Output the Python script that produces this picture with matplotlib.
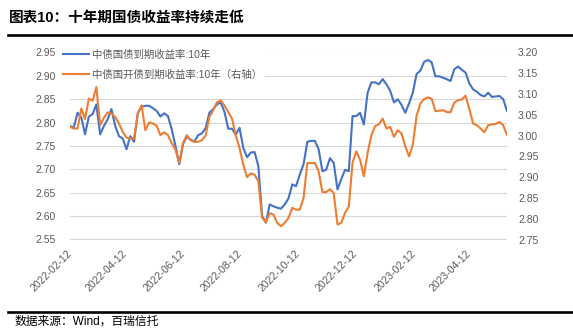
import matplotlib
matplotlib.use("Agg")
import matplotlib.pyplot as plt
from matplotlib.lines import Line2D
from matplotlib.ticker import MultipleLocator, FormatStrFormatter
import pandas as pd

plt.rcParams["font.family"] = ["Liberation Sans", "Noto Sans CJK SC", "DejaVu Sans"]

# 10Y yields, sampled every 4 days from 2022-02-12
dates = pd.date_range("2022-02-12", periods=117, freq="4D")
gov_10y = [
    2.793, 2.789, 2.821, 2.811, 2.775, 2.813, 2.818, 2.839, 2.775, 2.793, 2.807, 2.829,
    2.793, 2.771, 2.766, 2.743, 2.771, 2.759, 2.821, 2.834, 2.836, 2.836, 2.831, 2.825,
    2.813, 2.820, 2.814, 2.786, 2.750, 2.711, 2.754, 2.770, 2.764, 2.759, 2.773, 2.777,
    2.788, 2.821, 2.829, 2.839, 2.843, 2.823, 2.787, 2.787, 2.774, 2.789, 2.746, 2.726,
    2.736, 2.737, 2.707, 2.600, 2.586, 2.625, 2.621, 2.618, 2.616, 2.625, 2.638, 2.668,
    2.664, 2.689, 2.711, 2.759, 2.761, 2.761, 2.743, 2.696, 2.699, 2.724, 2.714, 2.657,
    2.679, 2.699, 2.696, 2.814, 2.814, 2.821, 2.796, 2.864, 2.886, 2.886, 2.882, 2.893,
    2.882, 2.868, 2.843, 2.850, 2.838, 2.821, 2.841, 2.864, 2.904, 2.911, 2.930, 2.934,
    2.929, 2.899, 2.899, 2.896, 2.893, 2.889, 2.914, 2.920, 2.913, 2.907, 2.884, 2.871,
    2.866, 2.859, 2.856, 2.864, 2.855, 2.856, 2.857, 2.850, 2.825,
]
cdb_10y = [
    3.021, 3.017, 3.017, 3.065, 3.040, 3.089, 3.084, 3.117, 3.025, 3.043, 3.056, 3.053,
    3.045, 3.029, 3.009, 2.995, 2.993, 2.993, 3.053, 3.073, 3.013, 3.032, 3.029, 3.024,
    3.001, 3.008, 3.001, 2.982, 2.966, 2.934, 2.982, 3.001, 2.989, 2.985, 2.985, 2.989,
    3.000, 3.045, 3.061, 3.080, 3.085, 3.072, 3.057, 3.041, 3.001, 2.970, 2.930, 2.900,
    2.909, 2.906, 2.890, 2.802, 2.792, 2.813, 2.810, 2.790, 2.782, 2.790, 2.802, 2.826,
    2.822, 2.822, 2.850, 2.934, 2.934, 2.934, 2.914, 2.864, 2.864, 2.871, 2.862, 2.786,
    2.790, 2.814, 2.829, 2.935, 2.962, 2.942, 2.902, 2.958, 3.001, 3.023, 3.027, 3.041,
    3.017, 3.021, 2.997, 3.013, 3.005, 2.974, 2.950, 2.978, 3.048, 3.077, 3.088, 3.092,
    3.089, 3.059, 3.060, 3.061, 3.057, 3.056, 3.079, 3.085, 3.087, 3.096, 3.064, 3.029,
    3.025, 3.017, 3.008, 3.025, 3.027, 3.028, 3.033, 3.025, 3.001,
]
tick_dates = pd.to_datetime([
    "2022-02-12", "2022-04-12", "2022-06-12", "2022-08-12",
    "2022-10-12", "2022-12-12", "2023-02-12", "2023-04-12",
])

BLUE = "#4472C4"
ORANGE = "#ED7D31"
GRAY = "#595959"
W, H = 573, 336

fig = plt.figure(figsize=(W / 100, H / 100), dpi=100)
ax = fig.add_axes([70 / W, 1 - 239.5 / H, 437 / W, 187 / H])
ax2 = ax.twinx()

l1, = ax.plot(dates, gov_10y, color=BLUE, lw=1.5, label="中债国债到期收益率:10年")
l2, = ax2.plot(dates, cdb_10y, color=ORANGE, lw=1.5, label="中债国开债到期收益率:10年（右轴）")

ax.set_xlim(dates[0], dates[-1])
ax.set_ylim(2.55, 2.95)
ax2.set_ylim(2.75, 3.20)
for a in (ax, ax2):
    a.yaxis.set_major_locator(MultipleLocator(0.05))
    a.yaxis.set_major_formatter(FormatStrFormatter("%.2f"))
    a.tick_params(length=0, labelsize=7.5, labelcolor=GRAY)
    for s in a.spines.values():
        s.set_visible(False)
ax.tick_params(axis="y", pad=10)
ax2.tick_params(axis="y", pad=8)
ax.yaxis.grid(True, color="#D9D9D9", lw=0.8)
ax.set_axisbelow(True)

ax.set_xticks(tick_dates)
ax.set_xticklabels([d.strftime("%Y-%m-%d") for d in tick_dates],
                   rotation=45, ha="right", va="center", rotation_mode="anchor")
ax.tick_params(axis="x", pad=9)

fig.legend(handles=[l1, l2], loc="upper left", bbox_to_anchor=(56 / W, 1 - 42 / H),
           fontsize=7.5, frameon=True, facecolor="white", edgecolor="none",
           framealpha=1, borderpad=0.2, handlelength=2.5, handletextpad=0.3,
           labelspacing=0.95, labelcolor=GRAY, fancybox=False)

fig.text(9 / W, 1 - 18 / H, "图表10：十年期国债收益率持续走低", fontsize=10.5,
         fontweight="bold", va="center", ha="left")
fig.add_artist(Line2D([8 / W, 1], [1 - 34.5 / H] * 2, color="black", lw=1.9))
fig.add_artist(Line2D([8 / W, 1], [1 - 311.7 / H] * 2, color="black", lw=1.9))
fig.text(15 / W, 1 - 322 / H, "数据来源：Wind，百瑞信托", fontsize=8.5,
         va="center", ha="left")

fig.savefig("out.png", dpi=100)
